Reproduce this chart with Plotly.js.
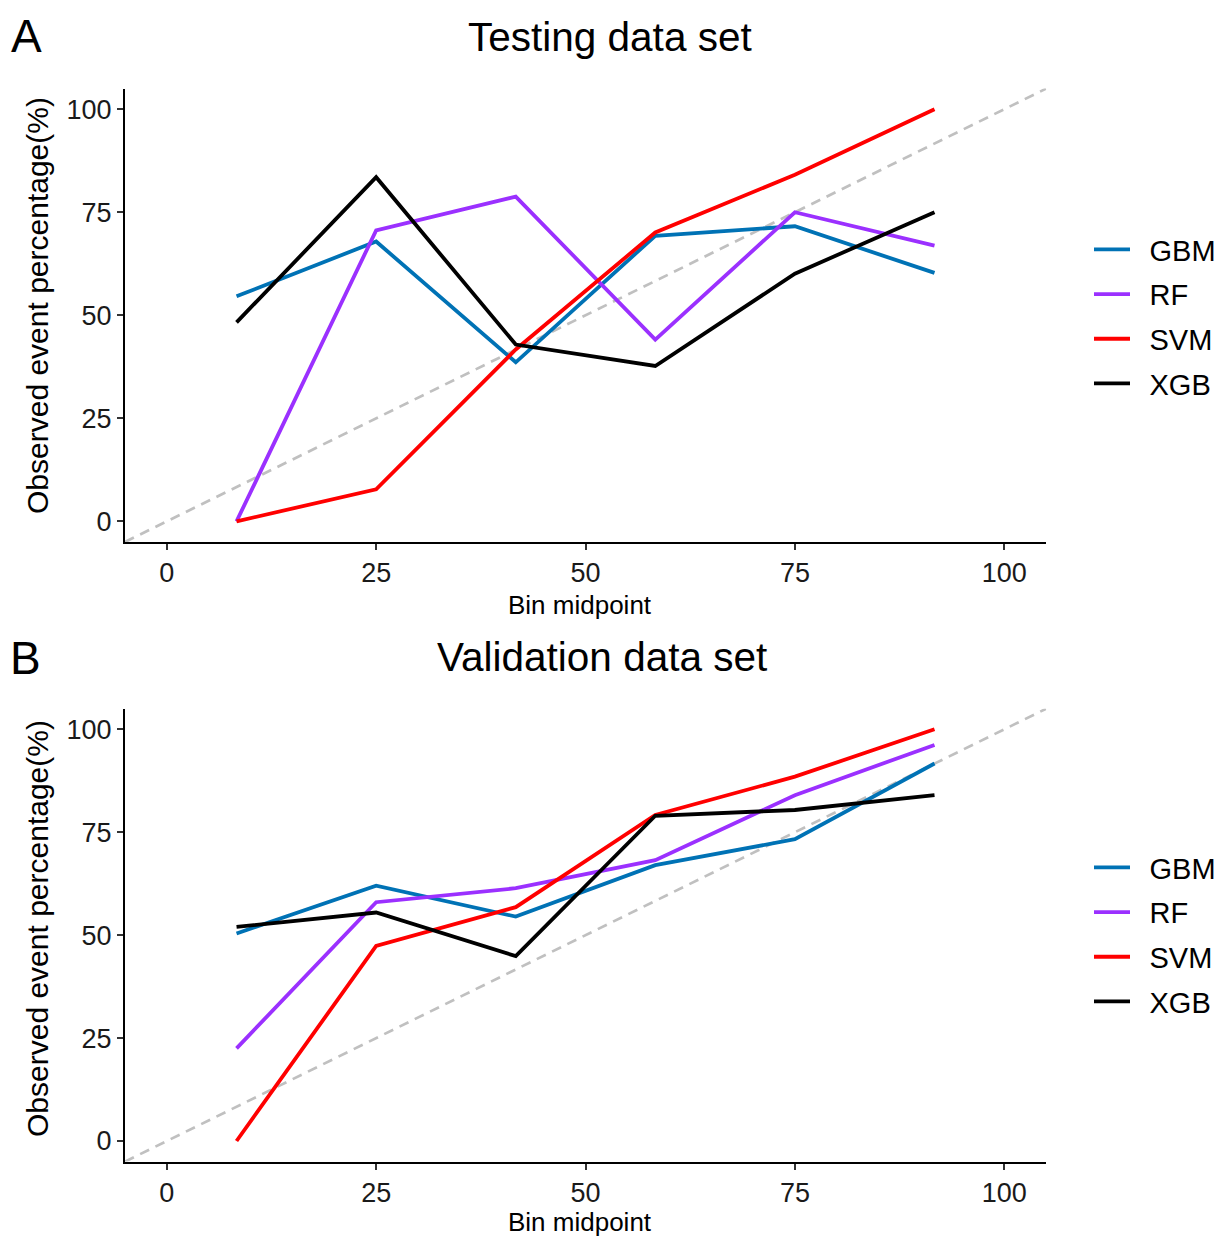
<!DOCTYPE html>
<html>
<head>
<meta charset="utf-8">
<script src="https://cdn.plot.ly/plotly-3.0.1.min.js"></script>
<style>html,body{margin:0;padding:0;background:#fff;}#chart{width:1221px;height:1236px;}</style>
</head>
<body>
<div id="chart"></div>
<script>
// ---- data ----
const binMidpoints = [8.33, 25, 41.67, 58.33, 75, 91.67];
const models = ["GBM", "RF", "SVM", "XGB"];
const modelColors = ["#0072B5", "#9B30FF", "#FF0000", "#000000"];

const testGBM = [54.6, 67.9, 38.6, 69.3, 71.6, 60.3];
const testRF  = [0, 70.6, 78.8, 44.1, 75.0, 66.9];
const testSVM = [0, 7.8, 41.7, 70.1, 84.1, 100];
const testXGB = [48.3, 83.5, 42.9, 37.7, 60.1, 75.0];

const valGBM = [50.4, 62.0, 54.5, 67.0, 73.3, 91.7];
const valRF  = [22.5, 58.0, 61.4, 68.2, 84.0, 96.2];
const valSVM = [0, 47.4, 56.8, 79.2, 88.5, 100];
const valXGB = [52.0, 55.5, 44.9, 79.0, 80.4, 84.0];

const diagonal = [-5, 105];
const tickValues = [0, 25, 50, 75, 100];
const panelTitles = ["Testing data set", "Validation data set"];
const panelLabels = ["A", "B"];
const xTitle = "Bin midpoint";
const yTitle = "Observed event percentage(%)";

// ---- layout helpers ----
const W = 1221, H = 1236;
const px = x => x / W;
const py = y => 1 - y / H;
const FONT = "Liberation Sans, Arial, sans-serif";
const KEY_GAP = "\u2002"; // visual gap between legend key and label

const testSeries = [testGBM, testRF, testSVM, testXGB];
const valSeries = [valGBM, valRF, valSVM, valXGB];

const traces = [];
function addPanel(series, xa, ya, legendId) {
  traces.push({
    x: diagonal, y: diagonal, xaxis: xa, yaxis: ya, mode: "lines",
    line: {color: "#C0C0C0", width: 2.7, dash: "10px,7px"},
    showlegend: false, hoverinfo: "skip"
  });
  series.forEach((vals, i) => {
    traces.push({
      x: binMidpoints, y: vals, xaxis: xa, yaxis: ya, mode: "lines",
      name: KEY_GAP + models[i], legend: legendId, legendgroup: legendId + models[i],
      line: {color: modelColors[i], width: 3.8}
    });
  });
}
addPanel(testSeries, "x", "y", "legend");
addPanel(valSeries, "x2", "y2", "legend2");

function axis(domain, anchor) {
  return {
    domain: domain, anchor: anchor, range: [-5, 105],
    tickvals: tickValues, ticktext: tickValues.map(String),
    showline: true, linecolor: "#000", linewidth: 2,
    ticks: "outside", ticklen: 6, tickwidth: 2, tickcolor: "#333",
    showgrid: false, zeroline: false,
    tickfont: {family: FONT, size: 27, color: "#1a1a1a"}
  };
}
const xDom = [px(125), px(1047)];
const yDom1 = [py(542), py(88.6)];
const yDom2 = [py(1161.6), py(708.7)];

function legend(yc) {
  return {
    x: px(1090), xanchor: "left", y: py(yc), yanchor: "middle",
    font: {family: FONT, size: 29, color: "#000"},
    bgcolor: "rgba(0,0,0,0)", itemwidth: 36,
    traceorder: "grouped", tracegroupgap: 4
  };
}

function ann(text, x, y, size, angle) {
  return {text: text, xref: "paper", yref: "paper", x: px(x), y: py(y),
          xanchor: "center", yanchor: "middle", showarrow: false,
          textangle: angle || 0, font: {family: FONT, size: size, color: "#000"}};
}

const layout = {
  width: W, height: H,
  margin: {l: 0, r: 0, t: 0, b: 0},
  paper_bgcolor: "#fff", plot_bgcolor: "#fff",
  showlegend: true,
  xaxis: axis(xDom, "y"),
  yaxis: axis(yDom1, "x"),
  xaxis2: axis(xDom, "y2"),
  yaxis2: axis(yDom2, "x2"),
  legend: legend(316.5),
  legend2: legend(934.5),
  annotations: [
    ann(panelLabels[0], 27, 36, 46),
    ann(panelLabels[1], 26, 658, 46),
    ann(panelTitles[0], 610, 37, 40.5),
    ann(panelTitles[1], 602, 657, 40.5),
    ann(yTitle, 37, 305, 30, -90),
    ann(yTitle, 37, 928, 30, -90),
    ann(xTitle, 580, 605, 26),
    ann(xTitle, 580, 1222, 26)
  ]
};

Plotly.newPlot("chart", traces, layout, {displayModeBar: false, staticPlot: true});
</script>
</body>
</html>
